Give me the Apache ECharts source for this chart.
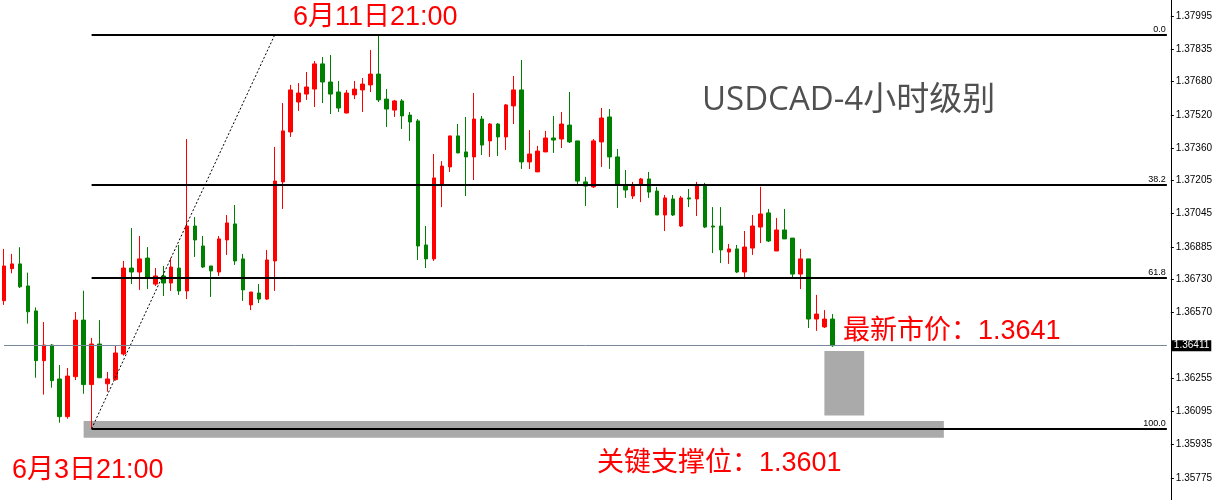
<!DOCTYPE html>
<html>
<head>
<meta charset="utf-8">
<script src="https://cdn.jsdelivr.net/npm/echarts@6/dist/echarts.min.js"></script>
<style>
html,body{margin:0;padding:0;background:#fff;}
#chart{width:1215px;height:500px;}
</style>
</head>
<body>
<div id="chart"></div>
<script>
// ---- data (USDCAD 4H candles) ----
const openVals = [
1.36627,1.36781,1.36804,1.36698,1.36578,1.36339,1.36414,1.36251,1.36070,1.36262,
1.36534,1.36224,1.36419,1.36228,1.36248,1.36371,1.36784,1.36765,1.36832,1.36707,
1.36746,1.36712,1.36784,1.36674,1.36986,1.36890,1.36794,1.36765,1.36919,1.36996,
1.36828,1.36607,1.36664,1.36635,1.36818,1.37198,1.37438,1.37582,1.37620,1.37644,
1.37765,1.37678,1.37630,1.37529,1.37616,1.37640,1.37664,1.37716,1.37596,1.37543,
1.37587,1.37519,1.37491,1.36895,1.36828,1.37188,1.37270,1.37419,1.37342,1.37318,
1.37500,1.37395,1.37476,1.37414,1.37563,1.37640,1.37294,1.37246,1.37342,1.37409,
1.37404,1.37471,1.37395,1.37198,1.37174,1.37390,1.37510,1.37318,1.37178,1.37130,
1.37188,1.37212,1.37154,1.37039,1.37116,1.36986,1.37121,1.37116,1.37178,1.36986,
1.36986,1.36861,1.36876,1.36765,1.36880,1.36981,1.37049,1.36866,1.36967,1.36928,
1.36755,1.36828,1.36539,1.36501,1.36539];
const closeVals = [
1.36794,1.36804,1.36694,1.36574,1.36339,1.36414,1.36243,1.36070,1.36265,1.36534,
1.36224,1.36419,1.36257,1.36251,1.36376,1.36784,1.36765,1.36828,1.36741,1.36746,
1.36712,1.36789,1.36674,1.36986,1.36919,1.36789,1.36770,1.36924,1.37001,1.36818,
1.36679,1.36669,1.36635,1.36823,1.37202,1.37443,1.37640,1.37625,1.37654,1.37765,
1.37678,1.37620,1.37553,1.37625,1.37644,1.37668,1.37716,1.37592,1.37548,1.37587,
1.37515,1.37486,1.36890,1.36828,1.37217,1.37274,1.37419,1.37337,1.37318,1.37500,
1.37375,1.37476,1.37414,1.37568,1.37640,1.37294,1.37332,1.37346,1.37409,1.37399,
1.37476,1.37390,1.37202,1.37178,1.37395,1.37505,1.37318,1.37188,1.37159,1.37178,
1.37212,1.37149,1.37039,1.37121,1.37039,1.37121,1.37116,1.37178,1.36981,1.36981,
1.36871,1.36876,1.36765,1.36885,1.36986,1.37044,1.36914,1.36967,1.36924,1.36755,
1.36828,1.36539,1.36563,1.36539,1.36411];
const lowVals = [
1.36607,1.36759,1.36688,1.36517,1.36257,1.36176,1.36209,1.36041,1.36060,1.36246,
1.36180,1.36012,1.36255,1.36190,1.36243,1.36363,1.36707,1.36679,1.36683,1.36698,
1.36650,1.36674,1.36655,1.36635,1.36837,1.36784,1.36645,1.36746,1.36847,1.36799,
1.36626,1.36582,1.36616,1.36631,1.36674,1.37068,1.37414,1.37539,1.37592,1.37558,
1.37577,1.37524,1.37534,1.37527,1.37596,1.37534,1.37630,1.37582,1.37462,1.37510,
1.37452,1.37395,1.36823,1.36784,1.36818,1.37077,1.37246,1.37337,1.37130,1.37207,
1.37327,1.37318,1.37322,1.37351,1.37476,1.37260,1.37260,1.37246,1.37342,1.37337,
1.37361,1.37385,1.37188,1.37082,1.37169,1.37270,1.37260,1.37073,1.37121,1.37116,
1.37101,1.37121,1.37039,1.36962,1.37034,1.36981,1.37077,1.37034,1.36976,1.36856,
1.36808,1.36804,1.36760,1.36731,1.36847,1.36904,1.36909,1.36866,1.36924,1.36741,
1.36683,1.36496,1.36482,1.36496,1.36405];
const highVals = [
1.36876,1.36852,1.36884,1.36762,1.36595,1.36525,1.36419,1.36318,1.36304,1.36573,
1.36675,1.36448,1.36534,1.36285,1.36410,1.36818,1.36976,1.36938,1.36885,1.36784,
1.36794,1.36832,1.36895,1.37404,1.37029,1.36938,1.36794,1.36938,1.37039,1.37087,
1.36852,1.36669,1.36707,1.36871,1.37366,1.37577,1.37664,1.37673,1.37726,1.37779,
1.37798,1.37808,1.37683,1.37640,1.37683,1.37697,1.37832,1.37905,1.37644,1.37592,
1.37596,1.37534,1.37500,1.36986,1.37332,1.37298,1.37419,1.37476,1.37510,1.37625,
1.37515,1.37481,1.37481,1.37572,1.37707,1.37784,1.37447,1.37371,1.37443,1.37515,
1.37534,1.37630,1.37395,1.37222,1.37404,1.37553,1.37548,1.37356,1.37255,1.37198,
1.37217,1.37246,1.37174,1.37135,1.37135,1.37130,1.37164,1.37198,1.37193,1.37077,
1.37077,1.36900,1.36895,1.36962,1.37039,1.37174,1.37068,1.37025,1.37068,1.36928,
1.36876,1.36828,1.36655,1.36582,1.36563];

const yTickLabels = [1.37995,1.37835,1.37680,1.37520,1.37360,1.37205,1.37045,1.36885,1.36730,1.36570,1.36255,1.36095,1.35935,1.35775];
const fibRatios = [0, 38.2, 61.8, 100];
const fibLabels = ['0.0', '38.2', '61.8', '100.0'];
const fibLowIndex = 11, fibHighIndex = 34;
const fibLow = 1.36012, fibHigh = 1.37905;
const lastPrice = 1.36411;
const supportPrice = '1.3601';
const lastPriceText = '1.3641';
const startLabel = '6月3日21:00';
const highLabel = '6月11日21:00';
const titleText = 'USDCAD-4小时级别';

// ---- categories: 4-hour bars (Beijing time), weekend skipped ----
const totalSlots = 147;
const categories = [];
{
  let t = Date.UTC(2024, 4, 31, 1);
  while (categories.length < totalSlots) {
    const d = new Date(t);
    const wd = d.getUTCDay(), h = d.getUTCHours();
    const closed = (wd === 6 && h >= 5) || wd === 0 || (wd === 1 && h < 5);
    if (!closed) categories.push((d.getUTCMonth() + 1) + '月' + d.getUTCDate() + '日' + String(h).padStart(2, '0') + ':00');
    t += 4 * 3600 * 1000;
  }
}
const candles = openVals.map((o, i) => [o, closeVals[i], lowVals[i], highVals[i]]);

const UP = '#ff0000', DOWN = '#008000';
const lastIdx = totalSlots - 1;
const fibLines = fibRatios.map((r, i) => {
  const v = fibHigh - (fibHigh - fibLow) * r / 100;
  return [
    { coord: [fibLowIndex, v], lineStyle: { color: '#000', width: 2, type: 'solid' },
      label: { show: true, position: 'insideEndTop', distance: 1, formatter: fibLabels[i],
        color: '#000', fontSize: 9, fontFamily: 'Liberation Sans' } },
    { coord: [lastIdx, v] }
  ];
});

const chart = echarts.init(document.getElementById('chart'), null, { renderer: 'canvas' });
const txtFont = "27px 'Liberation Sans', 'Noto Sans CJK SC', sans-serif";
chart.setOption({
  animation: false,
  backgroundColor: '#ffffff',
  grid: { left: -3, right: 43, top: 0, bottom: 0 },
  xAxis: {
    type: 'category', data: categories, boundaryGap: true,
    axisLine: { show: false }, axisTick: { show: false }, axisLabel: { show: false }, splitLine: { show: false }
  },
  yAxis: {
    type: 'value', position: 'right', scale: true,
    min: 1.356695, max: 1.38072,
    axisLine: { show: true, lineStyle: { color: '#000', width: 1 } },
    axisTick: { show: true, length: 3, lineStyle: { color: '#000' }, customValues: yTickLabels },
    axisLabel: {
      show: true, customValues: yTickLabels, margin: 5, color: '#000', fontSize: 10,
      fontFamily: 'Liberation Sans', formatter: v => v.toFixed(5)
    },
    splitLine: { show: false }
  },
  series: [{
    type: 'candlestick',
    data: candles,
    barWidth: 4,
    itemStyle: { color: UP, color0: DOWN, borderColor: UP, borderColor0: DOWN, borderWidth: 1 },
    markArea: {
      silent: true,
      itemStyle: { color: '#aaaaaa' },
      data: [
        [{ coord: [10, 1.36049] }, { coord: [118, 1.35969] }],
        [{ coord: [103, 1.36385] }, { coord: [108, 1.36075] }]
      ]
    },
    markLine: {
      silent: true, symbol: ['none', 'none'], animation: false,
      data: [
        ...fibLines,
        [
          { coord: [fibLowIndex, fibLow], lineStyle: { color: '#000', width: 1, type: [2, 2] }, label: { show: false } },
          { coord: [fibHighIndex, fibHigh] }
        ],
        [
          { coord: [0, lastPrice], lineStyle: { color: '#778899', width: 1, type: 'solid' },
            label: { show: true, position: 'end', distance: 5, formatter: lastPrice.toFixed(5),
              backgroundColor: '#000', color: '#fff', fontSize: 10, fontFamily: 'Liberation Sans', padding: [1, 2, 0, 2] } },
          { coord: [lastIdx, lastPrice] }
        ]
      ]
    }
  }],
  graphic: [
    { type: 'text', left: 293, top: 4, z: 100, style: { text: highLabel, font: txtFont, fill: '#ff0000' } },
    { type: 'text', left: 12, top: 457, z: 100, style: { text: startLabel, font: txtFont, fill: '#ff0000' } },
    { type: 'text', left: 843, top: 318, z: 100, style: { text: '最新市价：' + lastPriceText, font: txtFont, fill: '#ff0000' } },
    { type: 'text', left: 597, top: 450, z: 100, style: { text: '关键支撑位：' + supportPrice, font: txtFont, fill: '#ff0000' } },
    { type: 'text', left: 702, top: 84, z: 100, style: { text: titleText, font: "33px 'Open Sans', 'Noto Sans CJK SC', sans-serif", fill: '#505050' } }
  ]
});
</script>
</body>
</html>
